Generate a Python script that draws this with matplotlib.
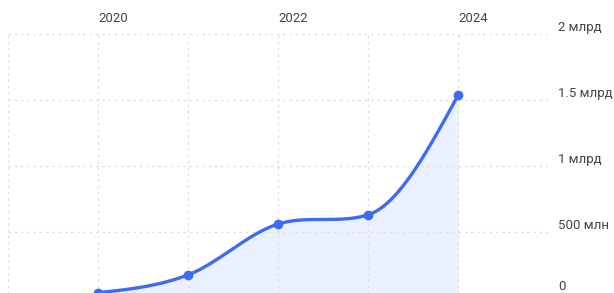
import numpy as np
import matplotlib.pyplot as plt
from matplotlib.ticker import FixedLocator

years = [2020, 2021, 2022, 2023, 2024]
values = [0.04, 0.175, 0.56, 0.63, 1.535]  # млрд
year_labels = ['2020', '2022', '2024']
y_ticks = [0, 0.5, 1.0, 1.5, 2.0]
y_labels = ['0', '500 млн', '1 млрд', '1.5 млрд', '2 млрд']

line_color = '#3d6cf0'
fill_color = '#eaf0fd'
grid_color = '#dedede'
text_color = '#444444'


def monotone(x, y, n=40):
    # monotone cubic (like d3 curveMonotoneX) just for drawing the line
    x = np.asarray(x, float)
    y = np.asarray(y, float)
    h = np.diff(x)
    s = np.diff(y) / h
    m = np.zeros_like(y)
    for i in range(1, len(y) - 1):
        if s[i - 1] * s[i] <= 0:
            m[i] = 0
        else:
            m[i] = (s[i - 1] * h[i] + s[i] * h[i - 1]) / (h[i - 1] + h[i])
            m[i] = np.sign(s[i]) * min(abs(m[i]), 3 * min(abs(s[i - 1]), abs(s[i])))
    m[0] = (3 * s[0] - m[1]) / 2
    m[-1] = (3 * s[-1] - m[-2]) / 2
    xs, ys = [], []
    for i in range(len(h)):
        t = np.linspace(0, 1, n)
        h00 = 2 * t**3 - 3 * t**2 + 1
        h10 = t**3 - 2 * t**2 + t
        h01 = -2 * t**3 + 3 * t**2
        h11 = t**3 - t**2
        xs.append(x[i] + t * h[i])
        ys.append(h00 * y[i] + h10 * h[i] * m[i] + h01 * y[i + 1] + h11 * h[i] * m[i + 1])
    return np.concatenate(xs), np.concatenate(ys)


plt.rcParams['font.family'] = ['Roboto', 'DejaVu Sans']

fig = plt.figure(figsize=(6.14, 2.93), dpi=100)
# plot area: x 8..548 px, y from 34 (2 млрд) to 298 (0) px -> goes a bit below the figure
W, H = 614, 293
ax = fig.add_axes([8 / W, 1 - 298 / H, 540 / W, (298 - 34) / H])

sx, sy = monotone(years, values)
ax.fill_between(sx, 0, sy, color=fill_color, lw=0, zorder=1)
ax.plot(sx, sy, color=line_color, lw=2.4, solid_capstyle='round', zorder=3)
ax.plot(years, values, 'o', color=line_color, ms=6, zorder=4)

ax.set_xlim(2019, 2025)
ax.set_ylim(0, 2.0)

ax.xaxis.set_major_locator(FixedLocator(list(range(2019, 2025))))
ax.yaxis.set_major_locator(FixedLocator(y_ticks))
ax.grid(True, color=grid_color, ls=(0, (2, 3)), lw=0.9, zorder=0)
ax.tick_params(length=0, labelbottom=False, labelleft=False)
ax.set_xticklabels([])
ax.set_yticklabels([])
for sp in ax.spines.values():
    sp.set_visible(False)

# year labels on top, left-aligned to the grid line
for lab in year_labels:
    ax.annotate(lab, xy=(int(lab), 2.0), xytext=(0, 11), textcoords='offset points',
                ha='left', va='center', fontsize=9.5, color=text_color)

# value labels on the right (the 0 label sits a bit higher so it stays in frame)
for v, lab in zip(y_ticks, y_labels):
    dy = 8 if v == 0 else 5
    ax.annotate(lab, xy=(2025, v), xytext=(7.5, dy), textcoords='offset points',
                ha='left', va='center', fontsize=9.5, color=text_color,
                annotation_clip=False)

fig.savefig('out.png', dpi=100)
